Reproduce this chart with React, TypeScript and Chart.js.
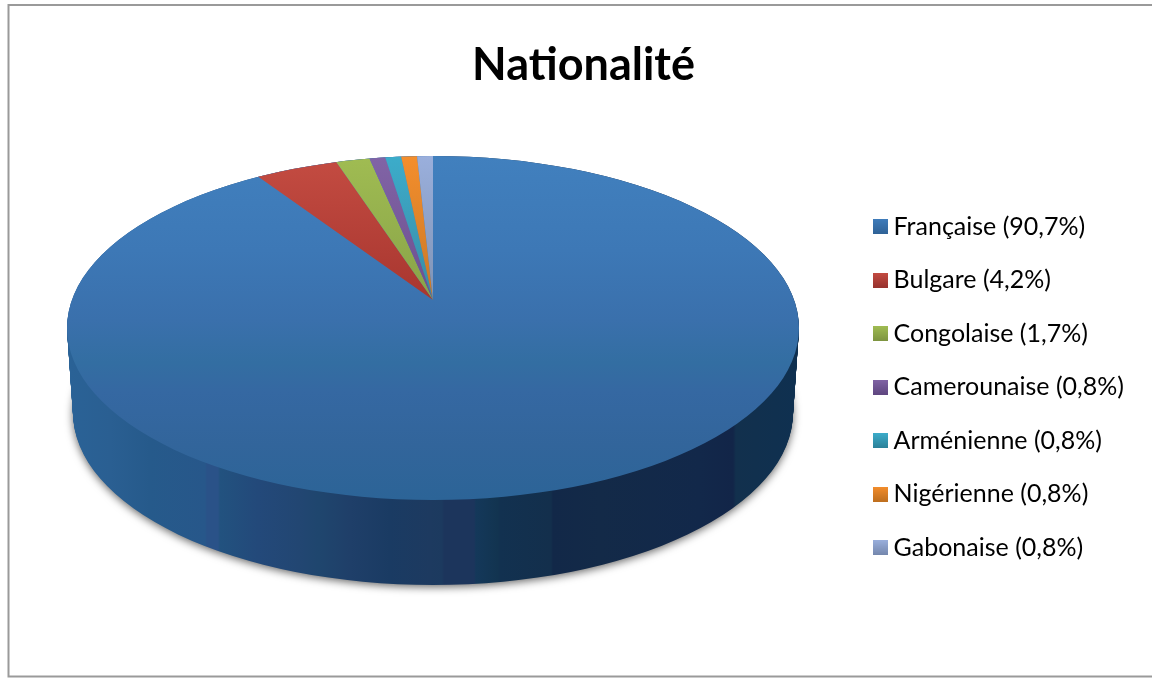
import React, { useEffect, useRef } from "react";
import { Chart, registerables } from "chart.js";

Chart.register(...registerables);

const nationalities = ["Française", "Bulgare", "Congolaise", "Camerounaise", "Arménienne", "Nigérienne", "Gabonaise"];
const shares = [90.7, 4.2, 1.7, 0.8, 0.8, 0.8, 0.8];
const shareTexts = ["90,7%", "4,2%", "1,7%", "0,8%", "0,8%", "0,8%", "0,8%"];
const chartTitle = "Nationalité";

const labels = nationalities.map((n, i) => `${n} (${shareTexts[i]})`);

const baseColors = ["#3c76b2", "#b5413b", "#95b04c", "#775a9a", "#3aa0bb", "#e48628", "#8ea3cc"];
const topFaceStops: [number, string][] = [
  [156, "#4180be"], [250, "#3d78b6"], [320, "#3a70ac"], [362, "#336ea2"], [392, "#3568a2"], [445, "#32659b"], [500, "#2c6497"],
];
// [top colour, colour at apex height] for each slice face
const faceStops: string[][] = [
  [],
  ["#c44c42", "#a8362f"],
  ["#a0bc52", "#88a348"],
  ["#8164a6", "#6d4f8e"],
  ["#3cacca", "#3a8ba6"],
  ["#f48e2c", "#c87828"],
  ["#9aafdc", "#7f93b4"],
];
const swatchStops: string[][] = [
  ["#3f7cbb", "#2f6296"],
  ["#c44c42", "#97322e"],
  ["#a0bc52", "#7d9440"],
  ["#8164a6", "#5f4680"],
  ["#3cacca", "#2b8199"],
  ["#f48e2c", "#bf6f1f"],
  ["#9aafdc", "#7487ad"],
];
const sideStops: [number, string][] = [
  [70, "#2a6296"], [110, "#2a5f92"], [150, "#265a8b"], [205, "#27578a"], [207, "#2a5288"], [218, "#2a5288"],
  [220, "#22527f"], [258, "#23497a"], [300, "#224672"], [318, "#1f466e"], [350, "#1f3f69"], [390, "#1a3b63"],
  [430, "#1d3a60"], [442, "#1c3a5f"], [444, "#1c355c"], [474, "#1c355c"], [476, "#14385a"], [498, "#123450"],
  [500, "#123150"], [551, "#132f4c"], [553, "#122848"], [600, "#132a48"], [700, "#12284a"], [733, "#122548"],
  [736, "#12304d"], [795, "#0f3050"],
];

const CX = 433;
const TOP = { y: 328, rx: 366, ry: 172 };
const BOTTOM = { y: 413, rx: 360, ry: 172 };
const APEX = { y: 300, rx: 368, ry: 167.4 };

function makeSwatch(stops: string[]) {
  const c = document.createElement("canvas");
  c.width = 15;
  c.height = 15;
  const g = c.getContext("2d")!;
  const gr = g.createLinearGradient(0, 0, 0, 15);
  gr.addColorStop(0, stops[0]);
  gr.addColorStop(1, stops[1]);
  g.fillStyle = gr;
  g.fillRect(0, 0, 15, 15);
  return c;
}

const framePlugin = {
  id: "frame",
  beforeDraw(chart: any) {
    const { ctx } = chart;
    ctx.save();
    ctx.fillStyle = "#ffffff";
    ctx.fillRect(0, 0, chart.width, chart.height);
    ctx.strokeStyle = "#9a9a9a";
    ctx.lineWidth = 2;
    ctx.strokeRect(8.5, 5, 1300, 671.5);
    ctx.restore();
  },
};

const pie3dPlugin = {
  id: "pie3d",
  beforeDatasetsDraw(chart: any) {
    const ctx: CanvasRenderingContext2D = chart.ctx;
    const arcs = chart.getDatasetMeta(0).data;
    const first = arcs[0];
    const R = first.outerRadius;
    const elX = first.x;
    const elY = first.y;

    const place = (tx: number, ty: number, rx: number, ry: number) => {
      ctx.translate(tx, ty);
      ctx.scale(rx / R, ry / R);
      ctx.translate(-elX, -elY);
    };
    const drawWith = (el: any, fill: any) => {
      const saved = el.options;
      el.options = { ...saved, backgroundColor: fill };
      el.draw(ctx);
      el.options = saved;
    };
    const asFull = (el: any, fn: () => void) => {
      const { endAngle, circumference } = el;
      el.endAngle = el.startAngle + Math.PI * 2 - 1e-4;
      el.circumference = Math.PI * 2 - 1e-4;
      fn();
      el.endAngle = endAngle;
      el.circumference = circumference;
    };

    // extruded side, from the lowest layer up
    const depth = BOTTOM.y - TOP.y;
    asFull(first, () => {
      for (let d = depth; d >= 0; d--) {
        const t = d / depth;
        const rx = TOP.rx + (BOTTOM.rx - TOP.rx) * t;
        const ry = TOP.ry + (BOTTOM.ry - TOP.ry) * t;
        ctx.save();
        place(CX, TOP.y + d, rx, ry);
        const sx = rx / R;
        const x0 = sideStops[0][0];
        const x1 = sideStops[sideStops.length - 1][0];
        const grad = ctx.createLinearGradient(elX + (x0 - CX) / sx, 0, elX + (x1 - CX) / sx, 0);
        sideStops.forEach(([x, col]) => grad.addColorStop((x - x0) / (x1 - x0), col));
        if (d === depth) {
          ctx.shadowColor = "rgba(0,0,0,0.6)";
          ctx.shadowBlur = 8;
          ctx.shadowOffsetY = 2;
        }
        drawWith(first, grad);
        ctx.restore();
      }

      // top face: whole ellipse in the first slice's colour
      ctx.save();
      place(CX, TOP.y, TOP.rx, TOP.ry);
      const sy = TOP.ry / R;
      const g = ctx.createLinearGradient(0, elY + (156 - TOP.y) / sy, 0, elY + (500 - TOP.y) / sy);
      topFaceStops.forEach(([y, c]) => g.addColorStop((y - 156) / (500 - 156), c));
      drawWith(first, g);
      ctx.restore();
    });

    // other slices: they meet at the perspective apex, clipped by the top ellipse
    ctx.save();
    ctx.beginPath();
    ctx.ellipse(CX, TOP.y, TOP.rx, TOP.ry, 0, 0, Math.PI * 2);
    ctx.clip();
    const sy = APEX.ry / R;
    for (let i = 1; i < arcs.length; i++) {
      ctx.save();
      place(CX, APEX.y, APEX.rx, APEX.ry);
      const g = ctx.createLinearGradient(0, elY + (156 - APEX.y) / sy, 0, elY);
      g.addColorStop(0, faceStops[i][0]);
      g.addColorStop(1, faceStops[i][1]);
      drawWith(arcs[i], g);
      ctx.restore();
    }
    ctx.restore();
    return false;
  },
};

export default function App() {
  const ref = useRef<HTMLCanvasElement>(null);
  useEffect(() => {
    const swatches = swatchStops.map(makeSwatch);
    const chart = new Chart(ref.current!, {
      type: "pie",
      data: {
        labels,
        datasets: [{ data: shares, backgroundColor: baseColors, borderWidth: 0 }],
      },
      options: {
        responsive: false,
        animation: false,
        devicePixelRatio: 1,
        layout: { padding: { left: 33, right: 18, top: 0, bottom: 8 } },
        plugins: {
          tooltip: { enabled: false },
          title: {
            display: true,
            text: chartTitle,
            color: "#000000",
            font: { family: "Lato", size: 45, weight: "bold" },
            padding: { top: 38, bottom: 11 },
          },
          legend: {
            display: true,
            position: "right",
            fullSize: false,
            labels: {
              color: "#000000",
              font: { family: "Lato", size: 25 },
              usePointStyle: true,
              pointStyleWidth: 2,
              boxHeight: 15,
              padding: 28.5,
              generateLabels: (c: any) =>
                (Chart as any).overrides.pie.plugins.legend.labels
                  .generateLabels(c)
                  .map((it: any, i: number) => ({ ...it, pointStyle: swatches[i] })),
            },
          },
        },
      },
      plugins: [framePlugin, pie3dPlugin],
    } as any);
    return () => chart.destroy();
  }, []);
  return (
    <canvas
      ref={ref}
      width={1152}
      height={679}
      style={{ position: "fixed", left: 0, top: 0, display: "block" }}
    />
  );
}
